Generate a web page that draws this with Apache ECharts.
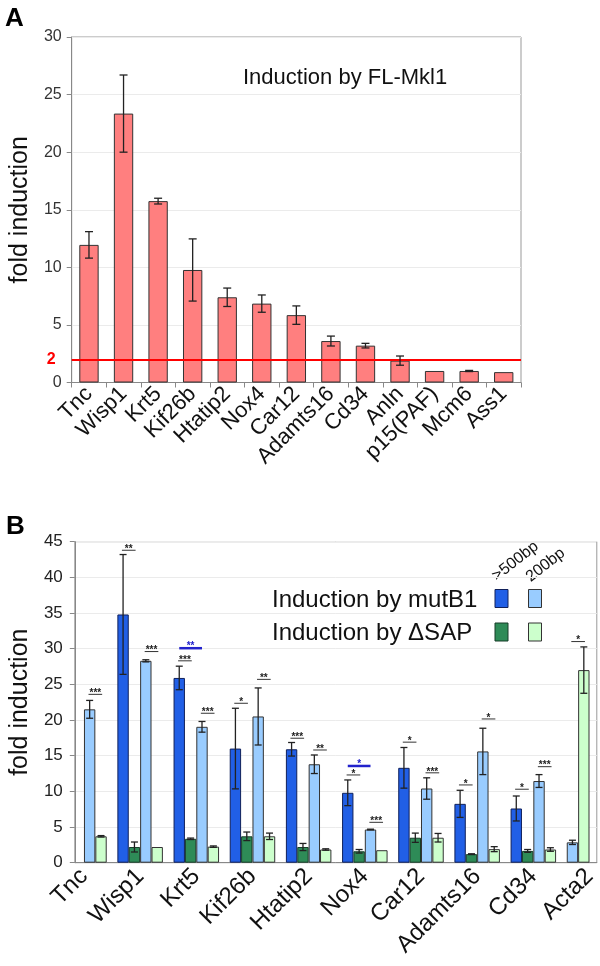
<!DOCTYPE html>
<html><head><meta charset="utf-8">
<script src="https://cdn.jsdelivr.net/npm/echarts@6/dist/echarts.min.js"></script>
<style>html,body{margin:0;padding:0;background:#fff}#c{width:600px;height:966px}</style>
</head><body><div id="c"></div>
<script>
// ---------- Panel A data ----------
const catsA = ['Tnc','Wisp1','Krt5','Kif26b','Htatip2','Nox4','Car12','Adamts16','Cd34','Anln','p15(PAF)','Mcm6','Ass1'];
const valsA = [11.95, 23.35, 15.75, 9.77, 7.4, 6.85, 5.85, 3.6, 3.2, 1.9, 1.0, 1.0, 0.9];
const errA  = [1.15, 3.35, 0.25, 2.7, 0.8, 0.75, 0.8, 0.43, 0.2, 0.4, null, 0.05, null];
const thresholdA = 2;

// ---------- Panel B data ----------
const catsB = ['Tnc','Wisp1','Krt5','Kif26b','Htatip2','Nox4','Car12','Adamts16','Cd34','Acta2'];
const mutB1_500    = [null, 34.8, 25.9, 16.0, 15.9, 9.8, 13.3, 8.25, 7.6, null];
const mutB1_500Err = [null, 8.4, 1.65, 5.65, 0.95, 1.8, 2.85, 1.9, 1.75, null];
const dSAP_500     = [null, 2.2, 3.35, 3.7, 2.2, 1.6, 3.5, 1.2, 1.65, null];
const dSAP_500Err  = [null, 0.7, 0.1, 0.6, 0.5, 0.25, 0.65, 0.05, 0.2, null];
const mutB1_200    = [21.5, 28.3, 19.05, 20.5, 13.8, 4.65, 10.4, 15.6, 11.45, 2.85];
const mutB1_200Err = [1.25, 0.15, 0.75, 4.0, 1.3, 0.05, 1.5, 3.25, 0.9, 0.3];
const dSAP_200     = [3.7, 2.2, 2.25, 3.7, 1.85, 1.75, 3.5, 1.9, 1.85, 27.0];
const dSAP_200Err  = [0.1, null, 0.1, 0.45, 0.1, null, 0.6, 0.35, 0.25, 3.25];

// significance marks (mutB1 vs dSAP), pair: '500' or '200'
const sigCat   = ['Tnc','Wisp1','Wisp1','Krt5','Krt5','Kif26b','Kif26b','Htatip2','Htatip2','Nox4','Nox4','Car12','Car12','Adamts16','Adamts16','Cd34','Cd34','Acta2'];
const sigPair  = ['200','500','200','500','200','500','200','500','200','500','200','500','200','500','200','500','200','200'];
const sigLevel = [23.6, 43.8, 29.6, 28.3, 20.95, 22.35, 25.7, 17.45, 15.8, 12.3, 5.66, 16.9, 12.6, 10.9, 20.15, 10.3, 13.46, 31.0];
const sigStars = ['***','**','***','***','***','*','**','***','**','*','***','*','***','*','*','*','***','*'];
// significance marks (mutB1 >500bp vs 200bp), blue
const sizeSigCat   = ['Krt5','Nox4'];
const sizeSigLevel = [30.07, 13.56];
const sizeSigStars = ['**','*'];

// ---------- styling / layout (not data) ----------
const FONT = '"Liberation Sans", Arial, sans-serif';
const COL = {a:'#ff7f7f', db:'#215fe6', dg:'#2e8b57', lb:'#99ccff', lg:'#ccffcc'};
const GAP_B = 0.19;
const compactB = ['Acta2']; // categories whose 200bp bars sit in the first two slots

function slotFor(ci, key) {
  const compact = compactB.indexOf(catsB[ci]) >= 0;
  const base = {m500:0, d500:1, m200:2, d200:3}[key];
  return compact && base >= 2 ? base - 2 : base;
}

const seriesDefs = [
  {key:'m500', vals:mutB1_500, errs:mutB1_500Err, color:COL.db, border:'#10205a'},
  {key:'d500', vals:dSAP_500, errs:dSAP_500Err, color:COL.dg, border:'#173d28'},
  {key:'m200', vals:mutB1_200, errs:mutB1_200Err, color:COL.lb, border:'#333'},
  {key:'d200', vals:dSAP_200, errs:dSAP_200Err, color:COL.lg, border:'#333'}
];

const slotData = [[],[],[],[]];
for (let s = 0; s < 4; s++) for (let i = 0; i < catsB.length; i++) slotData[s].push([i, null]);
const errBData = [];
seriesDefs.forEach(d => {
  d.vals.forEach((v, i) => {
    if (v == null) return;
    const s = slotFor(i, d.key);
    slotData[s][i] = {value:[i, v], itemStyle:{color:d.color, borderColor:d.border, borderWidth:1}};
    const e = d.errs[i];
    if (e != null) errBData.push([i, s, v - e, v + e]);
  });
});

function slotGeom(api, x, y) {
  const band = api.size([1, 0])[0];
  const total = band * (1 - GAP_B);
  const w = total / 4;
  const c = api.coord([x, y]);
  return {left: c[0] - total / 2, w: w, y: c[1]};
}

function errGroup(x, y1, y2, half, color) {
  const st = {stroke: color, lineWidth: 1.3};
  return {type:'group', children:[
    {type:'line', shape:{x1:x, y1:y1, x2:x, y2:y2}, style:st},
    {type:'line', shape:{x1:x-half, y1:y1, x2:x+half, y2:y1}, style:st},
    {type:'line', shape:{x1:x-half, y1:y2, x2:x+half, y2:y2}, style:st}
  ]};
}

const errAData = [];
valsA.forEach((v, i) => { if (errA[i] != null) errAData.push([i, v - errA[i], v + errA[i]]); });

const sigData = sigCat.map((c, k) => [catsB.indexOf(c), sigLevel[k]]);
const sizeSigData = sizeSigCat.map((c, k) => [catsB.indexOf(c), sizeSigLevel[k]]);

const chart = echarts.init(document.getElementById('c'), null, {renderer:'canvas'});
const option = {
  backgroundColor: '#fff',
  animation: false,
  textStyle: {fontFamily: FONT},
  title: [
    {text:'A', left:0, top:1, textStyle:{fontSize:26, fontWeight:'bold', color:'#000', fontFamily:FONT}},
    {text:'B', left:1, top:509, textStyle:{fontSize:26, fontWeight:'bold', color:'#000', fontFamily:FONT}},
    {text:'Induction by FL-Mkl1', left:238, top:62, textStyle:{fontSize:22, fontWeight:'normal', color:'#111', fontFamily:FONT}}
  ],
  grid: [
    {left:60, right:79, top:37, bottom:583.5, show:true, borderColor:'#999', borderWidth:1},
    {left:66.7, right:2.3, top:541.7, bottom:103.3, show:true, borderColor:'#999', borderWidth:1}
  ],
  xAxis: [
    {type:'category', gridIndex:0, data:catsA,
     axisLine:{lineStyle:{color:'#888'}},
     axisTick:{show:true, length:5, lineStyle:{color:'#888'}},
     axisLabel:{rotate:45, interval:0, fontSize:22, color:'#111', margin:8, fontFamily:FONT}},
    {type:'value', gridIndex:1, min:-0.163, max:9.13,
     splitLine:{show:false}, axisTick:{show:false},
     axisLine:{lineStyle:{color:'#888'}},
     axisLabel:{customValues:catsB.map((c, i) => i), formatter:v => catsB[Math.round(v)],
       rotate:45, fontSize:24, color:'#111', margin:10, hideOverlap:false, fontFamily:FONT}}
  ],
  yAxis: [
    {type:'value', gridIndex:0, min:0, max:30, interval:5,
     name:'fold induction', nameLocation:'middle', nameRotate:90, nameGap:29,
     nameTextStyle:{fontSize:25, color:'#111', fontFamily:FONT},
     axisLine:{show:true, onZero:false, lineStyle:{color:'#888'}},
     axisTick:{show:true, length:5, lineStyle:{color:'#888'}},
     axisLabel:{fontSize:16, color:'#333', margin:10, fontFamily:FONT},
     splitLine:{lineStyle:{color:'#ebebeb'}}},
    {type:'value', gridIndex:1, min:0, max:45, interval:5,
     name:'fold induction', nameLocation:'middle', nameRotate:90, nameGap:38,
     nameTextStyle:{fontSize:25, color:'#111', fontFamily:FONT},
     axisLine:{show:true, onZero:false, lineStyle:{color:'#888'}},
     axisTick:{show:true, length:5, lineStyle:{color:'#888'}},
     axisLabel:{fontSize:17, color:'#222', margin:12, fontFamily:FONT},
     splitLine:{lineStyle:{color:'#ebebeb'}}}
  ],
  graphic: [
    {type:'text', x:272, y:600, style:{text:'Induction by mutB1', font:'24px ' + FONT, fill:'#111', textVerticalAlign:'middle'}},
    {type:'text', x:272, y:633, style:{text:'Induction by \u0394SAP', font:'24px ' + FONT, fill:'#111', textVerticalAlign:'middle'}},
    {type:'rect', shape:{x:495, y:589.5, width:13, height:18}, style:{fill:COL.db, stroke:'#10205a', lineWidth:1}},
    {type:'rect', shape:{x:528.5, y:589.5, width:13, height:18}, style:{fill:COL.lb, stroke:'#333', lineWidth:1}},
    {type:'rect', shape:{x:495, y:623, width:13, height:18}, style:{fill:COL.dg, stroke:'#173d28', lineWidth:1}},
    {type:'rect', shape:{x:528.5, y:623, width:13, height:18}, style:{fill:COL.lg, stroke:'#333', lineWidth:1}},
    {type:'text', x:499, y:584, rotation:38*Math.PI/180, style:{text:'>500bp', font:'16px ' + FONT, fill:'#111', textAlign:'left', textVerticalAlign:'bottom'}},
    {type:'text', x:533, y:585, rotation:38*Math.PI/180, style:{text:'200bp', font:'16px ' + FONT, fill:'#111', textAlign:'left', textVerticalAlign:'bottom'}}
  ],
  series: [
    {type:'bar', xAxisIndex:0, yAxisIndex:0, data:valsA, barCategoryGap:'44%',
     itemStyle:{color:COL.a, borderColor:'#333', borderWidth:1},
     markLine:{symbol:'none', silent:true, animation:false,
       data:[{yAxis:thresholdA}],
       lineStyle:{color:'#ff0000', width:2, type:'solid'},
       label:{position:'start', formatter:String(thresholdA), color:'#ff0000', fontWeight:'bold', fontSize:16, distance:16, fontFamily:FONT}}},
    {type:'custom', xAxisIndex:0, yAxisIndex:0, data:errAData, encode:{x:0, y:[1,2]}, z:10,
     renderItem:function(params, api){
       const x = api.value(0);
       const lo = api.coord([x, api.value(1)]);
       const hi = api.coord([x, api.value(2)]);
       return errGroup(lo[0], lo[1], hi[1], 4, '#222');
     }},
    {type:'bar', xAxisIndex:1, yAxisIndex:1, data:slotData[0], barGap:'0%', barCategoryGap:(GAP_B*100)+'%'},
    {type:'bar', xAxisIndex:1, yAxisIndex:1, data:slotData[1], barGap:'0%', barCategoryGap:(GAP_B*100)+'%'},
    {type:'bar', xAxisIndex:1, yAxisIndex:1, data:slotData[2], barGap:'0%', barCategoryGap:(GAP_B*100)+'%'},
    {type:'bar', xAxisIndex:1, yAxisIndex:1, data:slotData[3], barGap:'0%', barCategoryGap:(GAP_B*100)+'%'},
    {type:'custom', xAxisIndex:1, yAxisIndex:1, data:errBData, encode:{x:0, y:[2,3]}, z:10, clip:false,
     renderItem:function(params, api){
       const x = api.value(0), s = api.value(1);
       const g = slotGeom(api, x, api.value(2));
       const hi = api.coord([x, api.value(3)]);
       const cx = g.left + (s + 0.5) * g.w;
       return errGroup(cx, g.y, hi[1], 3.5, '#222');
     }},
    {type:'custom', xAxisIndex:1, yAxisIndex:1, data:sigData, encode:{x:0, y:1}, z:11, clip:false,
     renderItem:function(params, api){
       const k = params.dataIndex;
       const x = api.value(0);
       const g = slotGeom(api, x, api.value(1));
       const s = slotFor(x, sigPair[k] === '500' ? 'm500' : 'm200');
       const cx = g.left + (s + 1) * g.w;
       const half = g.w * 0.6;
       return {type:'group', children:[
         {type:'line', shape:{x1:cx-half, y1:g.y, x2:cx+half, y2:g.y}, style:{stroke:'#333', lineWidth:1}},
         {type:'text', x:cx, y:g.y + 4, style:{text:sigStars[k], font:'bold 10px ' + FONT, fill:'#222', textAlign:'center', textVerticalAlign:'bottom'}}
       ]};
     }},
    {type:'custom', xAxisIndex:1, yAxisIndex:1, data:sizeSigData, encode:{x:0, y:1}, z:11, clip:false,
     renderItem:function(params, api){
       const k = params.dataIndex;
       const x = api.value(0);
       const g = slotGeom(api, x, api.value(1));
       const x1 = g.left + (slotFor(x, 'm500') + 0.5) * g.w;
       const x2 = g.left + (slotFor(x, 'm200') + 0.5) * g.w;
       return {type:'group', children:[
         {type:'line', shape:{x1:x1, y1:g.y, x2:x2, y2:g.y}, style:{stroke:'#2222cc', lineWidth:2.5}},
         {type:'text', x:(x1+x2)/2, y:g.y + 3, style:{text:sizeSigStars[k], font:'bold 10px ' + FONT, fill:'#2222cc', textAlign:'center', textVerticalAlign:'bottom'}}
       ]};
     }}
  ]
};
chart.setOption(option);
</script>
</body></html>
